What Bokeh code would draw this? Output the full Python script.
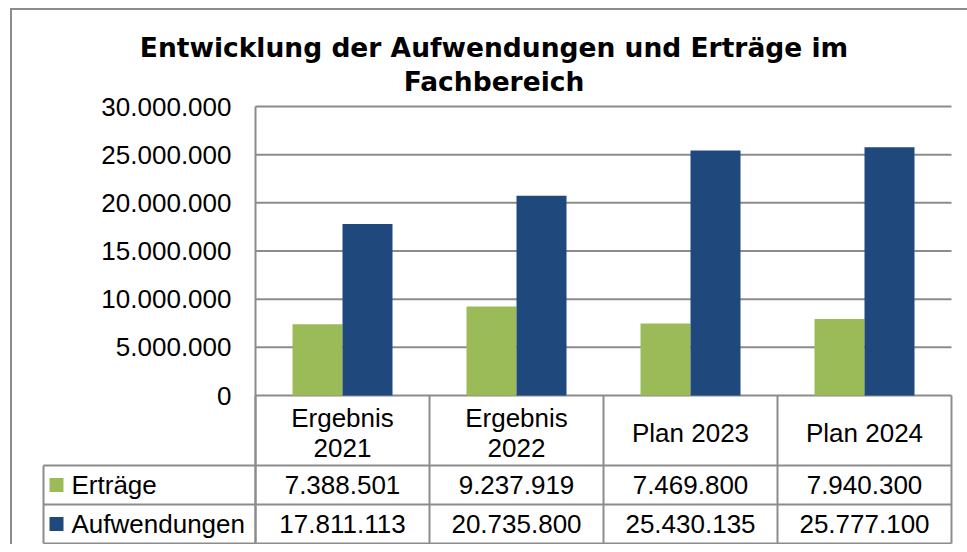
from bokeh.plotting import figure
from bokeh.models import Range1d, FixedTicker, CustomJSTickFormatter, ColumnDataSource
from bokeh.layouts import column
from bokeh.embed import file_html
from bokeh.resources import INLINE
from bokeh.core.properties import value

# ---------------- data ----------------
categories = ["Ergebnis 2021", "Ergebnis 2022", "Plan 2023", "Plan 2024"]
category_labels = ["Ergebnis\n2021", "Ergebnis\n2022", "Plan 2023", "Plan 2024"]
ertraege = [7388501, 9237919, 7469800, 7940300]
aufwendungen = [17811113, 20735800, 25430135, 25777100]
series_names = ["Erträge", "Aufwendungen"]
series_colors = ["#9BBB59", "#1F497D"]
y_ticks = [0, 5000000, 10000000, 15000000, 20000000, 25000000, 30000000]
title_lines = ["Entwicklung der Aufwendungen und Erträge im", "Fachbereich"]

# ---------------- layout (page pixels) ----------------
OX, OY = 12, 10            # content origin on the page (after margin + 2px border)
RIGHT, BOTTOM = 967, 544
PLOT_L, PLOT_R = 255, 951  # plot area left / right
PLOT_T, ZERO_Y = 106, 395  # 30 Mio line / zero line
n = len(categories)
CAT_W = (PLOT_R - PLOT_L) / n
Y_MAX = y_ticks[-1]
UPP = Y_MAX / (ZERO_Y - PLOT_T)   # value units per pixel

GRID = "#8c8c8c"
FONT = "Liberation Sans"
FS = "26px"


def ux(px):
    return (px - PLOT_L) / CAT_W


def uy(py):
    return (ZERO_Y - py) * UPP


xs = [i + 0.5 for i in range(n)]
bw = 50 / CAT_W

p = figure(width=RIGHT - OX, height=BOTTOM - OY, output_backend="svg", toolbar_location=None,
           x_range=Range1d(ux(OX), ux(RIGHT)), y_range=Range1d(uy(BOTTOM), uy(OY)),
           x_axis_location=None,
           min_border_left=0, min_border_right=0, min_border_top=0, min_border_bottom=0)
p.outline_line_color = None
p.background_fill_color = "white"
p.border_fill_color = "white"
p.grid.visible = False

# gridlines (plot area only)
p.segment(x0=[0] * len(y_ticks), x1=[n] * len(y_ticks), y0=y_ticks, y1=y_ticks,
          line_color=GRID, line_width=2, level="underlay")

# bars
src = ColumnDataSource(dict(
    x1=[x - bw / 2 for x in xs], x2=[x + bw / 2 for x in xs],
    e=ertraege, a=aufwendungen))
p.vbar(x="x1", top="e", width=bw, source=src, fill_color=series_colors[0], line_color=None)
p.vbar(x="x2", top="a", width=bw, source=src, fill_color=series_colors[1], line_color=None)

# value axis, drawn at the left edge of the plot area
yax = p.yaxis[0]
yax.fixed_location = 0
yax.bounds = (uy(543), Y_MAX)
yax.ticker = FixedTicker(ticks=y_ticks)
yax.formatter = CustomJSTickFormatter(code=r"return tick.toFixed(0).replace(/\B(?=(\d{3})+(?!\d))/g, '.');")
yax.axis_line_color = GRID
yax.axis_line_width = 2
yax.major_tick_line_color = None
yax.minor_tick_line_color = None
yax.major_tick_out = 0
yax.major_tick_in = 0
yax.major_label_standoff = 24
yax.major_label_text_font = FONT
yax.major_label_text_font_size = FS
yax.major_label_text_color = "black"

# title
for line, base in zip(title_lines, [47, 81]):
    p.text(x=[ux(493.5)], y=[uy(base)], text=[line], text_align="center", text_baseline="alphabetic",
           text_font=value("DejaVu Sans"), text_font_style="bold", text_font_size="26.5px",
           text_color="black")

# ---------------- data table ----------------
TAB_L = 43
ROW1_T, ROW2_T, ROW_B = 465, 504, 543
p.segment(x0=[ux(TAB_L)] * 3, x1=[n] * 3,
          y0=[uy(ROW1_T), uy(ROW2_T), uy(ROW_B)], y1=[uy(ROW1_T), uy(ROW2_T), uy(ROW_B)],
          line_color=GRID, line_width=2)
p.segment(x0=list(range(n + 1)), x1=list(range(n + 1)), y0=[0] * (n + 1), y1=[uy(ROW_B)] * (n + 1),
          line_color=GRID, line_width=2)
p.segment(x0=[ux(TAB_L)], x1=[ux(TAB_L)], y0=[uy(ROW1_T)], y1=[uy(ROW_B)], line_color=GRID, line_width=2)

p.text(x=xs, y=[uy(432)] * n, text=category_labels, text_align="center", text_baseline="middle",
       text_font=value(FONT), text_font_size=FS, text_color="black", text_line_height=1.0)


def fmt(v):
    return f"{v:,}".replace(",", ".")


row_y = [uy((ROW1_T + ROW2_T) / 2), uy((ROW2_T + ROW_B) / 2)]
for k, vals in enumerate([ertraege, aufwendungen]):
    p.text(x=xs, y=[row_y[k]] * n, text=[fmt(v) for v in vals], text_align="center",
           text_baseline="middle", text_font=value(FONT), text_font_size=FS, text_color="black")
    p.rect(x=[ux(56)], y=[row_y[k]], width=14, height=14, width_units="screen",
           height_units="screen", fill_color=series_colors[k], line_color=None)
    p.text(x=[ux(71)], y=[row_y[k]], text=[series_names[k]], text_align="left",
           text_baseline="middle", text_font=value(FONT), text_font_size=FS, text_color="black")

layout = column(p, margin=(8, 0, 0, 10),
                styles={"border-top": "2px solid #8c8c8c", "border-left": "2px solid #8c8c8c"})

open("out.html", "w").write(file_html(layout, INLINE))
